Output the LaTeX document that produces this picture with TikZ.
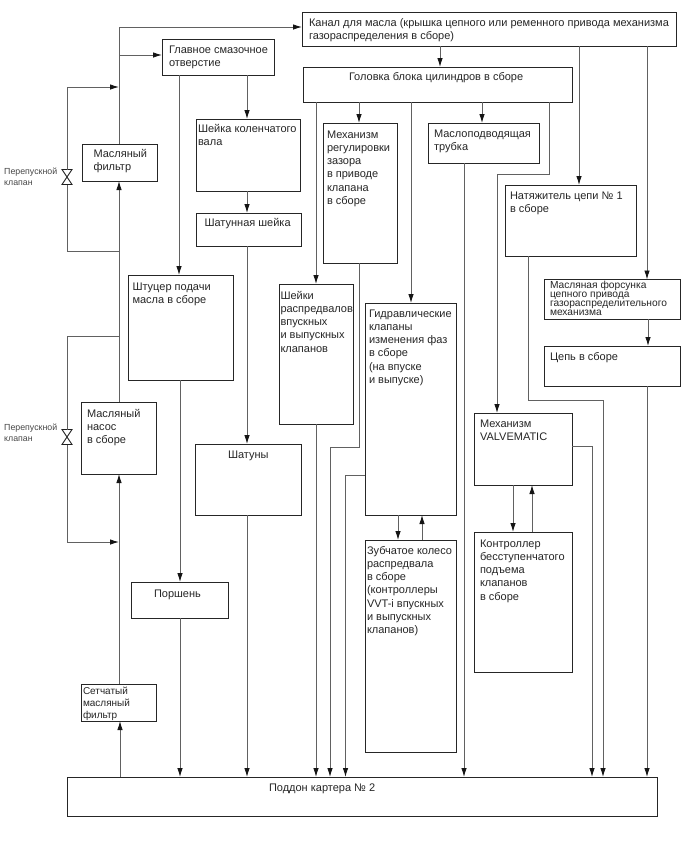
\documentclass[tikz,border=0pt]{standalone}
\usepackage{fontspec}
\setmainfont{Liberation Sans}
\usetikzlibrary{arrows.meta}
\newcommand{\fnorm}{\fontsize{11}{13.25}\selectfont}
\newcommand{\fsieve}{\fontsize{10}{12}\selectfont}
\newcommand{\fjet}{\fontsize{10.2}{9}\selectfont}
\newcommand{\fsmall}{\fontsize{8.8}{11}\selectfont}
% \bx[font]{name}{x1}{y1}{x2}{y2}{text x}{first baseline y}{text}
\newcommand{\bx}[8][\fnorm]{%
  \pgfmathsetmacro{\bxW}{#5-#3}%
  \pgfmathsetmacro{\bxH}{#6-#4}%
  \pgfmathsetmacro{\bxDx}{#7-#3}%
  \pgfmathsetmacro{\bxB}{#8-#4}%
  \bxrest{#1}{#2}{#3}{#4}{#5}{#6}}
\newcommand{\bxrest}[7]{%
  \node[boxn] (#2) at ({(#3+#5)/2},{(#4+#6)/2})
    {\parbox[t][\bxH pt][t]{\bxW pt}{#1\hyphenpenalty=10000 \exhyphenpenalty=10000
      \leftskip=\bxDx pt \rightskip=0pt plus 1fil \parindent=0pt \parfillskip=0pt plus 1fil
      \rule{0pt}{\bxB pt}#7\par}};}
\tikzset{
  x=1pt,y=-1pt,
  boxn/.style={draw=black!85,line width=0.85pt,fill=white,inner sep=0pt,outer sep=0pt,text=black!85},
  flow/.style={draw=black!62,line width=0.9pt,-{Latex[length=9pt,width=5.5pt,black!92]}},
  link/.style={draw=black!62,line width=0.9pt},
  vvalve/.style={inner sep=0pt,minimum width=10pt,minimum height=15pt,outer sep=0pt},
  vshape/.style={draw=black!88,line width=0.9pt,fill=white},
  note/.style={inner sep=0pt,anchor=north west,align=left,font=\fsmall,text=black!72}
}
\begin{document}
\begin{tikzpicture}
\useasboundingbox (0,0) rectangle (688,852);
\coordinate (j1) at (119,251);
\coordinate (j2) at (119,87);
\coordinate (j3) at (119,55);
\coordinate (j4) at (119,336);
\coordinate (j5) at (119,542);
\bx{kanal}{302}{12}{676}{46}{309}{26}{Канал для масла (крышка цепного или ременного привода механизма\\газораспределения в сборе)}
\bx{gl}{162}{39}{274}{75}{169}{53.5}{Главное смазочное\\отверстие}
\bx{head}{303}{67}{572}{102}{349}{80}{Головка блока цилиндров в сборе}
\bx{crank}{196}{119}{300}{191}{198}{132}{Шейка коленчатого\\вала}
\bx{rodj}{196}{213}{301}{246}{204.5}{226}{Шатунная шейка}
\bx{lash}{323}{123}{397}{263}{327}{138}{Механизм\\регулировки\\зазора\\в приводе\\клапана\\в сборе}
\bx{tube}{428}{123}{539}{163}{434}{137}{Маслоподводящая\\трубка}
\bx{filt}{82}{144}{157}{181}{93.5}{157}{Масляный\\фильтр}
\bx{tens}{505}{185}{636}{256}{510}{199}{Натяжитель цепи № 1\\в сборе}
\bx[\fjet]{jet}{544}{279.5}{680}{319}{550}{288.5}{Масляная форсунка\\цепного привода\\газораспределительного\\механизма}
\bx{chain}{544}{346}{680}{386}{550}{360}{Цепь в сборе}
\bx{fit}{128}{275}{233}{380}{132.5}{290}{Штуцер подачи\\масла в сборе}
\bx{cam}{279}{284}{353}{424}{280.5}{299}{Шейки\\распредвалов\\впускных\\и выпускных\\клапанов}
\bx{vvt}{365}{303}{456}{515}{369}{317}{Гидравлические\\клапаны\\изменения фаз\\в сборе\\(на впуске\\и выпуске)}
\bx{valve}{474}{413}{572}{485}{480}{427}{Механизм\\VALVEMATIC}
\bx{ctrl}{474}{532}{572}{672}{480}{547}{Контроллер\\бесступенчатого\\подъема\\клапанов\\в сборе}
\bx{gear}{365}{540}{456}{752}{367}{554}{Зубчатое колесо\\распредвала\\в сборе\\(контроллеры\\VVT-i впускных\\и выпускных\\клапанов)}
\bx{pump}{81}{402}{156}{474}{87}{417}{Масляный\\насос\\в сборе}
\bx{rods}{195}{444}{301}{515}{228}{458}{Шатуны}
\bx{pist}{131}{582}{228}{618}{154}{597}{Поршень}
\bx[\fsieve]{sieve}{81}{684}{156}{721}{83}{694}{Сетчатый\\масляный\\фильтр}
\bx{pan}{67}{777}{657}{816}{269}{791}{Поддон картера № 2}
\node[vvalve] (v1) at (67,177) {};
\node[vvalve] (v2) at (67,437) {};
\draw[vshape] (v1.north west)--(v1.north east)--(v1.south west)--(v1.south east)--cycle;
\draw[vshape] (v2.north west)--(v2.north east)--(v2.south west)--(v2.south east)--cycle;
\node[note] (n1) at (4,167.5) {Перепускной\\клапан};
\node[note] (n2) at (4,423.5) {Перепускной\\клапан};
\draw[flow] (pan.north -| 120,0) -- (sieve.south -| 120,0);
\draw[flow] (sieve.north -| 119,0) -- (pump.south -| 119,0);
\draw[flow] (pump.north -| 119,0) -- (filt.south -| 119,0);
\draw[flow] (filt.north -| 119,0) |- (kanal.west |- 0,27);
\draw[flow] (j3) -- (gl.west |- j3);
\draw[link] (j1) -| (v1.south);
\draw[flow] (v1.north) |- (j2);
\draw[link] (j4) -| (v2.north);
\draw[flow] (v2.south) |- (j5);
\draw[flow] (gl.south -| 179,0) -- (fit.north -| 179,0);
\draw[flow] (gl.south -| 247,0) -- (crank.north -| 247,0);
\draw[flow] (crank.south -| 247,0) -- (rodj.north -| 247,0);
\draw[flow] (rodj.south -| 247,0) -- (rods.north -| 247,0);
\draw[flow] (fit.south -| 180,0) -- (pist.north -| 180,0);
\draw[flow] (pist.south -| 180,0) -- (pan.north -| 180,0);
\draw[flow] (rods.south -| 247,0) -- (pan.north -| 247,0);
\draw[flow] (kanal.south -| 440,0) -- (head.north -| 440,0);
\draw[flow] (kanal.south -| 579,0) -- (tens.north -| 579,0);
\draw[flow] (kanal.south -| 647,0) -- (jet.north -| 647,0);
\draw[flow] (jet.south -| 648,0) -- (chain.north -| 648,0);
\draw[flow] (chain.south -| 647,0) -- (pan.north -| 647,0);
\draw[flow] (head.south -| 359,0) -- (lash.north -| 359,0);
\draw[flow] (head.south -| 316,0) -- (cam.north -| 316,0);
\draw[flow] (head.south -| 411,0) -- (vvt.north -| 411,0);
\draw[flow] (head.south -| 482,0) -- (tube.north -| 482,0);
\draw[flow] (tube.south -| 464,0) -- (pan.north -| 464,0);
\draw[flow] (head.south -| 549,0) -- (549,174) -- (497,174) -- (valve.north -| 497,0);
\draw[flow] (tens.south -| 528,0) -- (528,400) -- (603,400) -- (pan.north -| 603,0);
\draw[flow] (valve.east |- 0,446) -- (592,446) -- (pan.north -| 592,0);
\draw[flow] (valve.south -| 513,0) -- (ctrl.north -| 513,0);
\draw[flow] (ctrl.north -| 532,0) -- (valve.south -| 532,0);
\draw[flow] (vvt.south -| 398,0) -- (gear.north -| 398,0);
\draw[flow] (gear.north -| 422,0) -- (vvt.south -| 422,0);
\draw[flow] (cam.south -| 316,0) -- (pan.north -| 316,0);
\draw[flow] (lash.south -| 359,0) -- (359,447) -- (330,447) -- (pan.north -| 330,0);
\draw[flow] (vvt.west |- 0,475) -- (345.5,475) -- (pan.north -| 345.5,0);
\end{tikzpicture}
\end{document}
